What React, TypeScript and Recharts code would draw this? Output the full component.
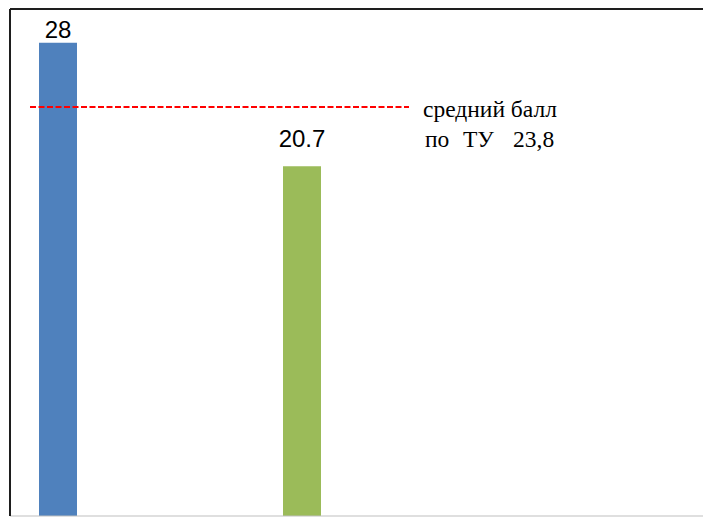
import React from 'react';
import { Bar, BarChart, Cell, LabelList, ReferenceLine, XAxis, YAxis } from 'recharts';

// categories of the (cropped) chart; the middle one has no visible bar
const CATEGORIES = ['1', '2', '3'];
const SCORES = [28, null, 20.7];
const BAR_COLORS = ['#4F81BD', '#C0504D', '#9BBB59'];

// the dashed average line sits here in the picture
const AVG_LINE_VALUE = 24.2;
const AVG_LABEL_TOP = 'средний балл';
const AVG_LABEL_BOTTOM = ['по', 'ТУ', '23,8'];

const Y_DOMAIN: [number, number] = [0, 30];

const data = CATEGORIES.map((category, i) => ({ category, score: SCORES[i] }));

// gap between bar top and its value label, by category
const labelGap = [5, 5, 19];

const AvgLine = (props: any) => {
  const y = props.y1;
  return (
    <g>
      <line
        x1={30}
        x2={409}
        y1={y}
        y2={y}
        stroke="#FF0000"
        strokeWidth={2}
        strokeDasharray="6 2.5"
      />
      <text x={423} y={y + 10} fontFamily="'Liberation Serif', serif" fontSize={23.5} fill="#000">
        {AVG_LABEL_TOP}
      </text>
      <text y={y + 40} fontFamily="'Liberation Serif', serif" fontSize={23.5} fill="#000">
        <tspan x={425}>{AVG_LABEL_BOTTOM[0]}</tspan>
        <tspan x={463}>{AVG_LABEL_BOTTOM[1]}</tspan>
        <tspan x={513}>{AVG_LABEL_BOTTOM[2]}</tspan>
      </text>
    </g>
  );
};

const renderValue = (props: any) => {
  const { x, y, width, value } = props;
  if (value == null) return null;
  const i = SCORES.indexOf(value);
  return (
    <text
      x={Number(x) + Number(width) / 2}
      y={Number(y) - labelGap[i]}
      textAnchor="middle"
      fontFamily="'Liberation Sans', Arial, sans-serif"
      fontSize={24}
      fill="#000"
    >
      {value}
    </text>
  );
};

export default function App() {
  return (
    <div style={{ position: 'absolute', left: 0, top: 0, width: 703, height: 517, background: '#fff' }}>
      <BarChart
        width={703}
        height={517}
        data={data}
        margin={{ top: 9, right: 0, bottom: 0, left: 9 }}
        barSize={38}
      >
        <XAxis
          dataKey="category"
          tick={false}
          tickLine={false}
          height={1}
          axisLine={{ stroke: '#BFBFBF', strokeWidth: 1 }}
          padding={{ left: -13, right: 340 }}
        />
        <YAxis
          domain={Y_DOMAIN}
          width={1}
          tick={false}
          tickLine={false}
          axisLine={{ stroke: '#1E1E1E', strokeWidth: 2 }}
        />
        <ReferenceLine y={Y_DOMAIN[1]} stroke="#1E1E1E" strokeWidth={2} />
        <Bar dataKey="score" isAnimationActive={false}>
          {data.map((d, i) => (
            <Cell key={d.category} fill={BAR_COLORS[i]} />
          ))}
          <LabelList dataKey="score" content={renderValue} />
        </Bar>
        <ReferenceLine y={AVG_LINE_VALUE} shape={AvgLine} />
      </BarChart>
    </div>
  );
}
